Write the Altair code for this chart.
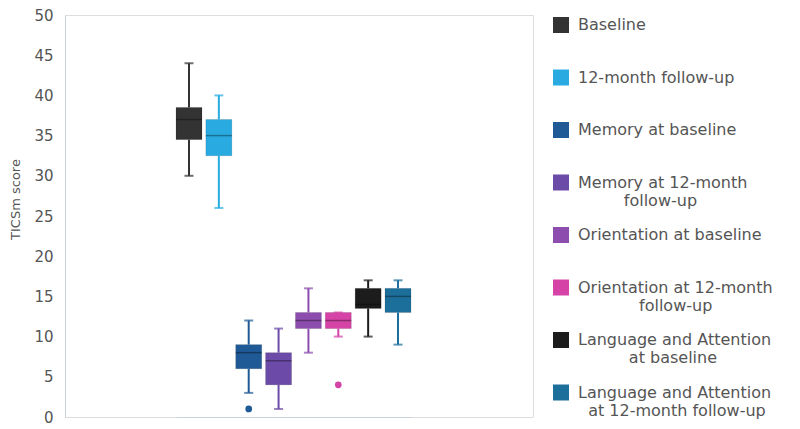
import altair as alt
import pandas as pd

# leading zero-width space keeps the non-breaking spaces from being trimmed
PAD = "\u200b"
NB = "\u00a0"
series = [
    "Baseline",
    "12-month follow-up",
    "Memory at baseline",
    "Memory at 12-month|" + PAD + NB * 9 + "follow-up",
    "Orientation at baseline",
    "Orientation at 12-month|" + PAD + NB * 12 + "follow-up",
    "Language and Attention|" + PAD + NB * 10 + "at baseline",
    "Language and Attention|" + PAD + NB * 2 + "at 12-month follow-up",
]
colors = ["#333333", "#29ABE2", "#1F5A97", "#6C4AA8", "#8C4DAE", "#D543A6", "#1C1C1C", "#1D6F9B"]
mins = [30, 26, 3, 1, 8, 10, 10, 9]
q1s = [34.5, 32.5, 6, 4, 11, 11, 13.5, 13]
medians = [37, 35, 8, 7, 12, 12, 14, 15]
q3s = [38.5, 37, 9, 8, 13, 13, 16, 16]
maxs = [44, 40, 12, 11, 16, 13, 17, 17]
outlier_series = [series[2], series[5]]
outlier_values = [1, 4]

df = pd.DataFrame({"series": series, "lo": mins, "q1": q1s, "med": medians, "q3": q3s, "hi": maxs})
out = pd.DataFrame({"series": outlier_series, "v": outlier_values})

FONT = "DejaVu Sans"
xenc = alt.X("series:N", sort=series,
             scale=alt.Scale(domain=series, range=[111, 346], paddingInner=0.13, paddingOuter=0),
             axis=alt.Axis(labels=False, ticks=False, title=None, domainColor="#C9D1DD", grid=False))
yscale = alt.Scale(domain=[0, 50], nice=False)
yaxis = alt.Axis(values=list(range(0, 51, 5)), grid=False, ticks=False, tickSize=0, labelPadding=12,
                 domainColor="#C9D1DD", labelColor="#555555", labelFontSize=15, labelFont=FONT,
                 title="TICSm score", titleFont=FONT, titleFontSize=13, titleColor="#555555",
                 titleFontWeight="normal", titleAngle=270, titleAlign="center", titleBaseline="middle",
                 titleX=-50, titleY=184)
color = alt.Color("series:N", sort=series, scale=alt.Scale(domain=series, range=colors),
                  legend=alt.Legend(title=None, orient="none", legendX=488, legendY=2,
                                    symbolType="square", symbolSize=256, symbolStrokeWidth=0,
                                    symbolOpacity=1, labelFont=FONT, labelFontSize=16,
                                    labelColor="#555555", labelLimit=320, labelOffset=9,
                                    labelExpr="split(datum.label, '|')", gridAlign="all",
                                    rowPadding=18.5, padding=0))
nolegend = alt.Color("series:N", sort=series, scale=alt.Scale(domain=series, range=colors), legend=None)

base = alt.Chart(df)
box = base.mark_bar(stroke="#000000", strokeOpacity=0.12, strokeWidth=1).encode(
    x=xenc, y=alt.Y("q1:Q", scale=yscale, axis=yaxis), y2="q3:Q", color=color)
wlo = base.mark_rule(strokeWidth=2).encode(x=xenc, y="lo:Q", y2="q1:Q", color=nolegend)
whi = base.mark_rule(strokeWidth=2).encode(x=xenc, y="q3:Q", y2="hi:Q", color=nolegend)
caplo = base.mark_tick(orient="horizontal", size=9, thickness=2).encode(x=xenc, y="lo:Q", color=nolegend)
caphi = base.mark_tick(orient="horizontal", size=9, thickness=2).encode(x=xenc, y="hi:Q", color=nolegend)
med = base.mark_tick(orient="horizontal", thickness=1.5, color="#000000", opacity=0.35).encode(
    x=xenc, y="med:Q")
pts = alt.Chart(out).mark_circle(size=45, opacity=1).encode(x=xenc, y="v:Q", color=nolegend)

chart = alt.layer(box, wlo, whi, caplo, caphi, med, pts).properties(
    width=468, height=402,
    autosize=alt.AutoSizeParams(type="none"),
    padding={"left": 57, "top": 7, "right": 259, "bottom": 10},
).configure_view(stroke=None).configure(background="#ffffff")

chart.save("out.html", embed_options={"renderer": "svg", "actions": False})
